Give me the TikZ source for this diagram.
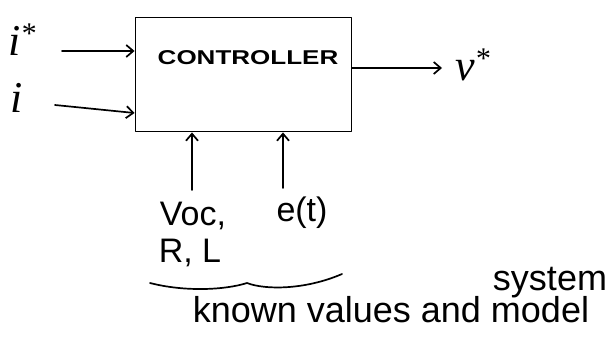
\documentclass[tikz,border=0pt]{standalone}
\usepackage{fontspec}
\setmainfont{Liberation Sans}
\newfontfamily\symfont{Liberation Serif}
\usetikzlibrary{arrows.meta}
\begin{document}
\begin{tikzpicture}[x=1pt,y=-1pt,
  ink/.style={line width=1.7pt, line cap=round, line join=round},
  arr/.style={ink, -{Straight Barb[length=7pt,width=12pt,line width=1.7pt]}},
  lbl/.style={inner sep=0pt, font=\fontsize{34}{36}\selectfont},
  note/.style={inner sep=0pt, font=\fontsize{36}{38}\selectfont},
  sym/.style={inner sep=0pt, font=\symfont\itshape\fontsize{44}{46}\selectfont}]
\useasboundingbox (0,0) rectangle (616,338);
% controller box
\node[draw, ink, line width=1.9pt, minimum width=216pt, minimum height=114pt, inner sep=0pt] (box) at (243.5,74.5) {};
\node[inner sep=0pt, font=\fontsize{20}{22}\selectfont\bfseries] (ctext) at (248,58) {\scalebox{1.3}[1]{CONTROLLER}};
% inputs
\node[sym, anchor=base west] (istar) at (8,55) {i\raisebox{12pt}{\fontsize{30}{30}\selectfont *}};
\node[sym, anchor=base west] (icur) at (10,112) {i};
\coordinate (a1) at (62,51);
\coordinate (a2) at (55,105);
\draw[arr] (a1) -- (a1 -| box.west);
\draw[arr] (a2) -- ([yshift=-8pt]a2 -| box.west);
% output
\node[sym, anchor=base west] (vstar) at (455,80) {v\raisebox{12pt}{\fontsize{30}{30}\selectfont *}};
\coordinate (o1) at (442,68);
\draw[arr] (box.east |- o1) -- (o1);
% bottom inputs
\node[lbl] (voc) at (193,216) {Voc,};
\node[lbl] (et) at (302,213) {e(t)};
\node[lbl] (rl) at (190,253) {R, L};
\coordinate (b1) at (192,190);
\coordinate (b2) at (283,188);
\draw[arr] (b1) -- (b1 |- box.south);
\draw[arr] (b2) -- (b2 |- box.south);
% brace
\coordinate (br1) at (150,283);
\coordinate (brm) at (247,283);
\coordinate (br2) at (342,274);
\draw[ink] (br1) .. controls (185,292) and (225,290) .. (brm) .. controls (265,290) and (305,290) .. (br2);
% notes
\node[note] (sys) at (550,283) {system};
\node[note] (known) at (391,310) {known values and model};
\end{tikzpicture}
\end{document}
